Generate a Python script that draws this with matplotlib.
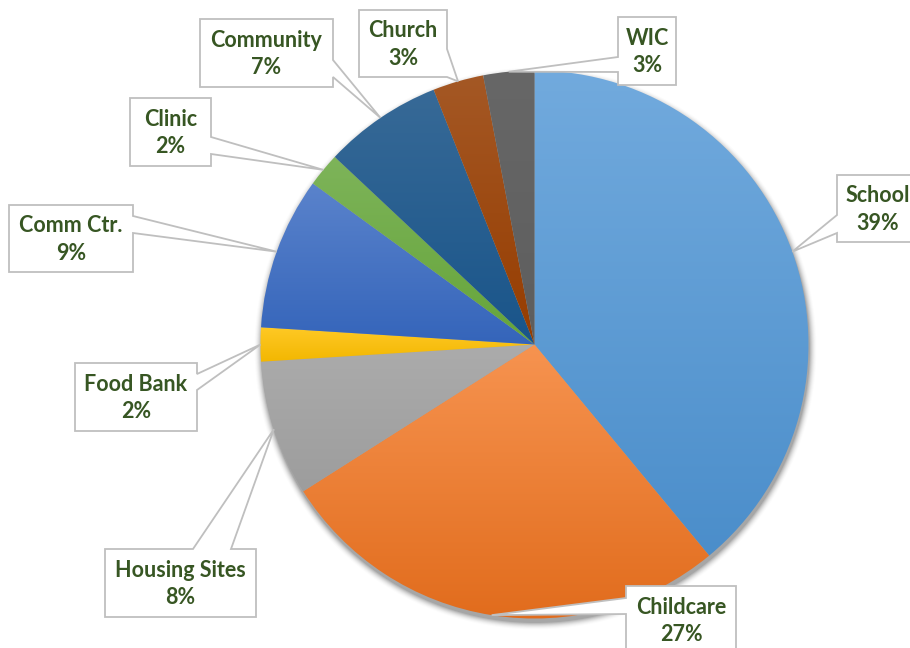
import numpy as np
import matplotlib
matplotlib.use('Agg')
import matplotlib.pyplot as plt
from matplotlib.patches import Polygon
from matplotlib.colors import to_rgb, rgb_to_hsv, hsv_to_rgb

W, H = 910, 648

categories = ['School', 'Childcare', 'Housing Sites', 'Food Bank', 'Comm Ctr.',
              'Clinic', 'Community', 'Church', 'WIC']
shares = [39, 27, 8, 2, 9, 2, 7, 3, 3]
colors = ['#5B9BD5', '#ED7D31', '#A5A5A5', '#FFC000', '#4472C4',
          '#70AD47', '#255E91', '#9E480E', '#636363']

# callout boxes in pixel coords (y down): x0, y0, x1, y1, side, base a, base b
callouts = {
    'School':        (837, 175, 919, 242, 'left', 215, 233),
    'Childcare':     (626, 586, 736, 654, 'left', 598, 614),
    'Housing Sites': (105, 549, 256, 617, 'top', 193, 231),
    'Food Bank':     (75, 363, 197, 431, 'right', 374, 390),
    'Comm Ctr.':     (9, 205, 133, 272, 'right', 216, 233),
    'Clinic':        (130, 98, 211, 166, 'right', 137, 154),
    'Community':     (200, 19, 333, 87, 'right', 60, 77),
    'Church':        (359, 10, 447, 77, 'right', 49, 77),
    'WIC':           (618, 17, 676, 85, 'left', 57, 72),
}

cx, cy, r = 534.5, H - 344.5, 274.0

fig = plt.figure(figsize=(W / 100, H / 100), dpi=100)
ax = fig.add_axes([0, 0, 1, 1])

# soft drop shadow under the pie, pushed a little down
gx, gy = np.meshgrid(np.arange(0, W) + 0.5, np.arange(0, H) + 0.5)
d = np.hypot(gx - (cx + 1), gy - (cy - 4)) - r
shadow = np.clip(1 - d / 8.0, 0, 1) ** 2 * 0.5
rgba = np.zeros((H, W, 4))
rgba[..., :3] = 0.3
rgba[..., 3] = shadow
ax.imshow(rgba, extent=[0, W, 0, H], origin='lower', zorder=0, interpolation='bilinear')

wedges, _ = ax.pie(shares, colors=colors, startangle=90, counterclock=False,
                   center=(cx, cy), radius=r, wedgeprops=dict(linewidth=0))


def shade(col, ds, dv):
    hsv = rgb_to_hsv(np.array(to_rgb(col)))
    hsv[1] = np.clip(hsv[1] * ds, 0, 1)
    hsv[2] = np.clip(hsv[2] * dv, 0, 1)
    return hsv_to_rgb(hsv)


# vertical shade on every slice, lighter on top
for w, col in zip(wedges, colors):
    t = np.radians(np.linspace(w.theta1, w.theta2, 200))
    xs = np.concatenate([[cx], cx + r * np.cos(t)])
    ys = np.concatenate([[cy], cy + r * np.sin(t)])
    top = shade(col, 0.85, 1.04)
    bot = shade(col, 1.1, 0.95)
    f = np.linspace(0, 1, 256)[:, None]
    grad = (bot[None, :] * (1 - f) + top[None, :] * f)[:, None, :]
    im = ax.imshow(grad, extent=[xs.min() - 1, xs.max() + 1, ys.min() - 1, ys.max() + 1],
                   origin='lower', aspect='auto', zorder=2, interpolation='bilinear')
    im.set_clip_path(w)
    w.set_facecolor('none')

# callout labels
for w, name, v in zip(wedges, categories, shares):
    mid = np.radians((w.theta1 + w.theta2) / 2)
    tip = (cx + r * np.cos(mid), cy + r * np.sin(mid))
    x0, y0, x1, y1, side, a, b = callouts[name]
    y0, y1 = H - y0, H - y1
    if side == 'right':
        pts = [(x0, y0), (x1, y0), (x1, H - a), tip, (x1, H - b), (x1, y1), (x0, y1)]
    elif side == 'left':
        pts = [(x0, y0), (x1, y0), (x1, y1), (x0, y1), (x0, H - b), tip, (x0, H - a)]
    else:
        pts = [(x0, y0), (a, y0), tip, (b, y0), (x1, y0), (x1, y1), (x0, y1)]
    ax.add_patch(Polygon(pts, closed=True, facecolor='white', edgecolor='#BFBFBF',
                         linewidth=1.3, zorder=4))
    ax.text((x0 + x1) / 2, (y0 + y1) / 2 - 1, '{}\n{}%'.format(name, v), ha='center',
            va='center', fontsize=15.5, fontweight='bold', family='Lato',
            color='#375623', linespacing=1.4, zorder=5)

ax.set_xlim(0, W)
ax.set_ylim(0, H)
ax.set_aspect('auto')
ax.axis('off')

plt.savefig('out.png', dpi=100)
